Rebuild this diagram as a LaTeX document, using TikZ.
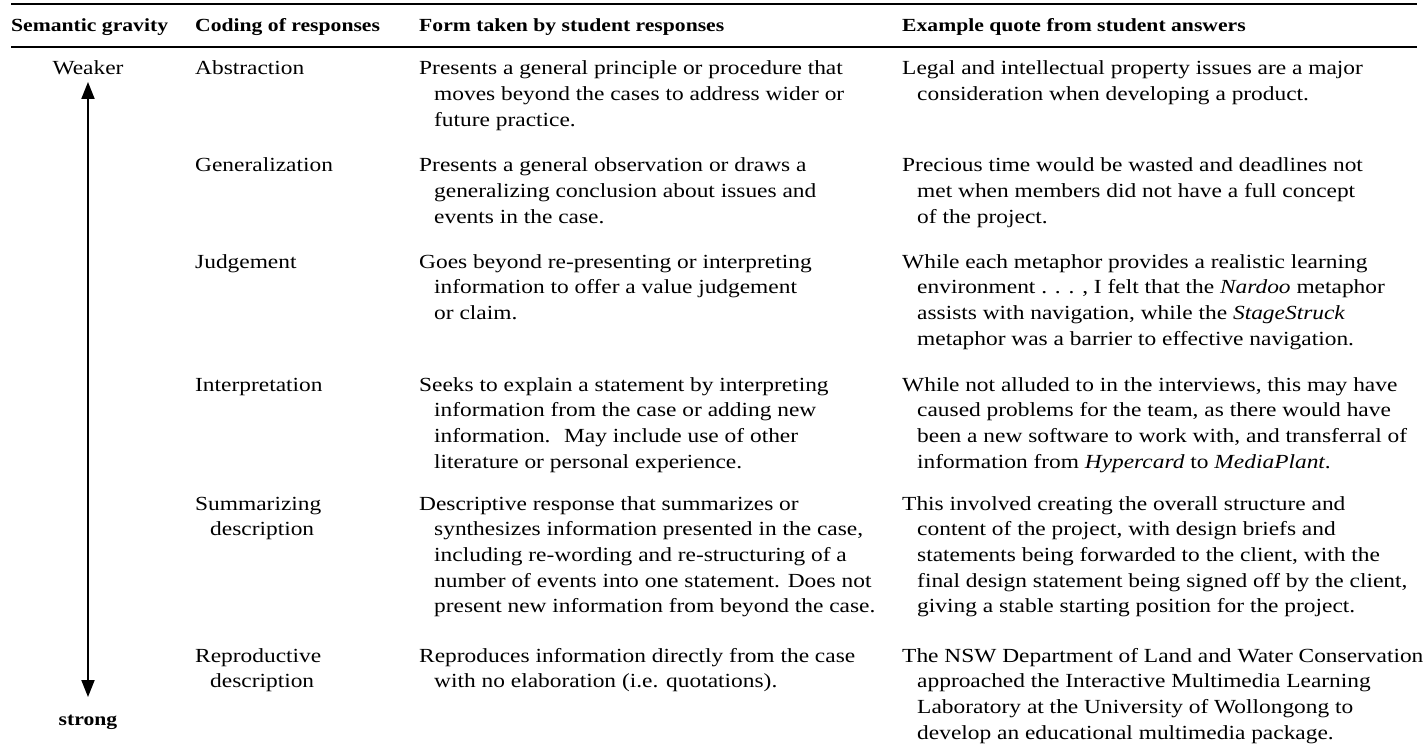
\documentclass[tikz,border=0pt]{standalone}
\usepackage{fontspec}
\setmainfont{Liberation Serif}[FakeStretch=1.17]
\usetikzlibrary{positioning,arrows.meta}

\newcommand{\ind}{\hspace*{15pt}}
\newcommand{\rows}[1]{\begin{tabular}[t]{@{}l@{}}#1\end{tabular}}
\tikzset{
  cell/.style={anchor=base west, inner sep=0, font=\fontsize{20}{25.7}\selectfont},
  head/.style={anchor=base west, inner sep=0, font=\fontsize{18.5}{22}\selectfont\bfseries},
}

\begin{document}
\begin{tikzpicture}[x=1pt, y=-1pt]
  \useasboundingbox (0,0) rectangle (1424,754);

  % rules
  \draw[line width=1.7pt] (11,4) -- (1417,4);
  \draw[line width=1.2pt] (11,47) -- (1417,47);

  % header
  \foreach \x/\t [count=\i] in {11/Semantic gravity, 195/Coding of responses, 419/Form taken by student responses, 902/Example quote from student answers}
    \node[head] (hd\i) at (\x,32) {\t};

  % gravity axis
  \node[cell, anchor=base] (weak) at (88,75) {Weaker};
  \node[head, anchor=base] (strong) at (88,725) {strong};
  \coordinate (up) at (88,82);
  \coordinate (down) at (88,697);
  \draw[line width=2pt, {Triangle[width=13pt,length=17pt]}-{Triangle[width=13pt,length=17pt]}] (up) -- (down);

  % abstraction
  \node[cell] (r1c2) at (195,75) {Abstraction};
  \node[cell] (r1c3) at (419,75) {\rows{Presents a general principle or procedure that\\\ind moves beyond the cases to address wider or\\\ind future practice.}};
  \node[cell] (r1c4) at (902,75) {\rows{Legal and intellectual property issues are a major\\\ind consideration when developing a product.}};

  % generalization
  \node[cell] (r2c2) at (195,172) {Generalization};
  \node[cell] (r2c3) at (419,172) {\rows{Presents a general observation or draws a\\\ind generalizing conclusion about issues and\\\ind events in the case.}};
  \node[cell] (r2c4) at (902,172) {\rows{Precious time would be wasted and deadlines not\\\ind met when members did not have a full concept\\\ind of the project.}};

  % judgement
  \node[cell] (r3c2) at (195,268) {Judgement};
  \node[cell] (r3c3) at (419,268) {\rows{Goes beyond re-presenting or interpreting\\\ind information to offer a value judgement\\\ind or claim.}};
  \node[cell] (r3c4) at (902,268) {\rows{While each metaphor provides a realistic learning\\\ind environment . . . , I felt that the \textit{Nardoo} metaphor\\\ind assists with navigation, while the \textit{StageStruck}\\\ind metaphor was a barrier to effective navigation.}};

  % interpretation
  \node[cell] (r4c2) at (195,391) {Interpretation};
  \node[cell] (r4c3) at (419,391) {\rows{Seeks to explain a statement by interpreting\\\ind information from the case or adding new\\\ind information.~ May include use of other\\\ind literature or personal experience.}};
  \node[cell] (r4c4) at (902,391) {\rows{While not alluded to in the interviews, this may have\\\ind caused problems for the team, as there would have\\\ind been a new software to work with, and transferral of\\\ind information from \textit{Hypercard} to \textit{MediaPlant}.}};

  % summarizing
  \node[cell] (r5c2) at (195,510) {\rows{Summarizing\\\ind description}};
  \node[cell] (r5c3) at (419,510) {\rows{Descriptive response that summarizes or\\\ind synthesizes information presented in the case,\\\ind including re-wording and re-structuring of a\\\ind number of events into one statement. Does not\\\ind present new information from beyond the case.}};
  \node[cell] (r5c4) at (902,510) {\rows{This involved creating the overall structure and\\\ind content of the project, with design briefs and\\\ind statements being forwarded to the client, with the\\\ind final design statement being signed off by the client,\\\ind giving a stable starting position for the project.}};

  % reproductive
  \node[cell] (r6c2) at (195,662) {\rows{Reproductive\\\ind description}};
  \node[cell] (r6c3) at (419,662) {\rows{Reproduces information directly from the case\\\ind with no elaboration (i.e. quotations).}};
  \node[cell] (r6c4) at (902,662) {\rows{The NSW Department of Land and Water Conservation\\\ind approached the Interactive Multimedia Learning\\\ind Laboratory at the University of Wollongong to\\\ind develop an educational multimedia package.}};
\end{tikzpicture}
\end{document}
